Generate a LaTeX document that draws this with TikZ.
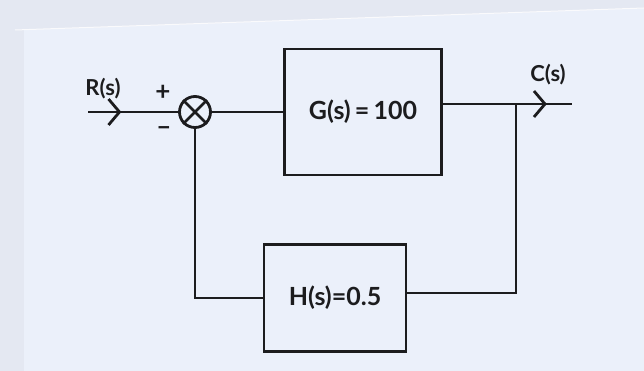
\documentclass[tikz,border=0pt]{standalone}
\usepackage{fontspec}
\setmainfont{Lato}
\usetikzlibrary{arrows.meta,decorations.markings}
\definecolor{paper}{HTML}{EBF0FA}
\definecolor{paperedge}{HTML}{E4E8F2}
\definecolor{ink}{HTML}{1C1C1E}
\tikzset{
  wire/.style={draw=ink,line width=2.8pt},
  blockbox/.style={draw=ink,line width=2.8pt,minimum width=157pt,minimum height=126pt,inner sep=0pt,font=\fontsize{25}{28}\selectfont\bfseries,text=ink},
  lbl/.style={font=\fontsize{22}{24}\selectfont\bfseries,text=ink,inner sep=0pt},
  midarrow/.style={postaction={decorate},decoration={markings,mark=at position #1 with {\arrow[line width=2.8pt]{Straight Barb[length=11pt,width=26pt]}}}}
}
\begin{document}
\begin{tikzpicture}[x=1pt,y=-1pt]
\useasboundingbox (0,0) rectangle (644,371);
\fill[paper] (0,0) rectangle (644,371);
\fill[paperedge] (0,0) -- (644,0) -- (644,8) -- (15,30) -- (0,30) -- cycle;
\fill[paperedge] (0,0) rectangle (24,371);
\draw[white!80!paperedge,line width=1pt] (15,30) -- (644,8);
% nodes
\coordinate (in) at (88,112);
\node[circle,draw=ink,line width=2.8pt,minimum size=31pt,inner sep=0pt] (sum) at (195,112) {};
\draw[wire] (sum.north east) -- (sum.south west);
\draw[wire] (sum.north west) -- (sum.south east);
\node[blockbox] (G) at (363,112) {G(s)\,=\,100};
\node[blockbox,minimum width=142pt,minimum height=107pt] (H) at (335,298) {H(s)=0.5};
\coordinate (br) at (516,104);
\coordinate (out) at (572,104);
\coordinate (fb) at (195,298);
\coordinate (brdown) at (516,293);
% labels
\node[lbl] (R) at (103,89) {R(s)};
\node[lbl] (C) at (548,75) {C(s)};
\node[lbl,font=\fontsize{26}{28}\selectfont\bfseries] (plus) at (163,93) {+};
\node[lbl,font=\fontsize{26}{28}\selectfont\bfseries] (minus) at (164,131) {–};
% connectors
\draw[wire,midarrow=0.37] (in) -- (sum.west);
\draw[wire] (sum.east) -- (G.west);
\draw[wire] (G.east |- br) -- (br);
\draw[wire,midarrow=0.55] (br) -- (out);
\draw[wire] (br) -- (brdown) -- (H.east |- brdown);
\draw[wire] (H.west |- fb) -- (fb) -- (sum.south);
\end{tikzpicture}
\end{document}
